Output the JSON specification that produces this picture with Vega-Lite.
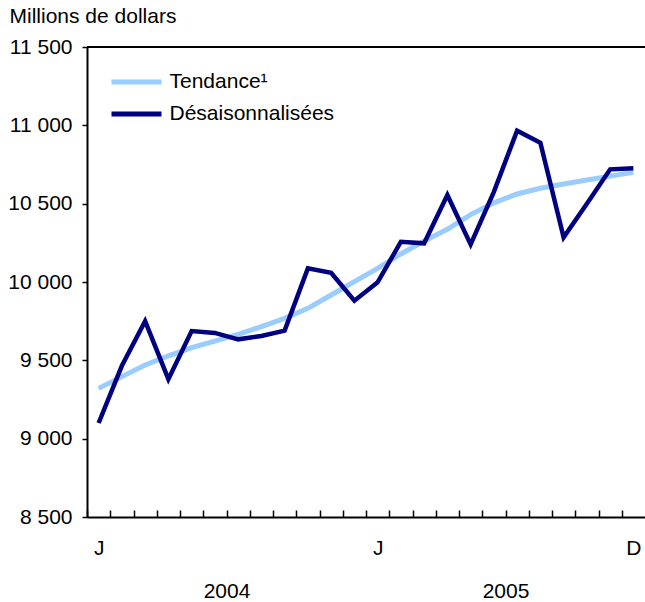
{
  "$schema": "https://vega.github.io/schema/vega-lite/v6.json",
  "autosize": {"type": "none"},
  "width": 558,
  "height": 470,
  "padding": {"left": 87, "top": 47, "right": 0, "bottom": 85},
  "config": {
    "view": {"stroke": null},
    "font": "Liberation Sans",
    "axis": {"grid": false, "domainColor": "#000000", "tickColor": "#000000", "labelColor": "#000000", "titleColor": "#000000", "labelFont": "Liberation Sans", "titleFont": "Liberation Sans"}
  },
  "data": {
    "values": [
      {"t": 0, "month": "2004-01", "series": "Tendance¹", "value": 9321},
      {"t": 1, "month": "2004-02", "series": "Tendance¹", "value": 9396},
      {"t": 2, "month": "2004-03", "series": "Tendance¹", "value": 9470},
      {"t": 3, "month": "2004-04", "series": "Tendance¹", "value": 9528},
      {"t": 4, "month": "2004-05", "series": "Tendance¹", "value": 9581},
      {"t": 5, "month": "2004-06", "series": "Tendance¹", "value": 9623},
      {"t": 6, "month": "2004-07", "series": "Tendance¹", "value": 9666},
      {"t": 7, "month": "2004-08", "series": "Tendance¹", "value": 9715},
      {"t": 8, "month": "2004-09", "series": "Tendance¹", "value": 9768},
      {"t": 9, "month": "2004-10", "series": "Tendance¹", "value": 9832},
      {"t": 10, "month": "2004-11", "series": "Tendance¹", "value": 9917},
      {"t": 11, "month": "2004-12", "series": "Tendance¹", "value": 10002},
      {"t": 12, "month": "2005-01", "series": "Tendance¹", "value": 10087},
      {"t": 13, "month": "2005-02", "series": "Tendance¹", "value": 10179},
      {"t": 14, "month": "2005-03", "series": "Tendance¹", "value": 10262},
      {"t": 15, "month": "2005-04", "series": "Tendance¹", "value": 10336},
      {"t": 16, "month": "2005-05", "series": "Tendance¹", "value": 10430},
      {"t": 17, "month": "2005-06", "series": "Tendance¹", "value": 10505},
      {"t": 18, "month": "2005-07", "series": "Tendance¹", "value": 10562},
      {"t": 19, "month": "2005-08", "series": "Tendance¹", "value": 10598},
      {"t": 20, "month": "2005-09", "series": "Tendance¹", "value": 10625},
      {"t": 21, "month": "2005-10", "series": "Tendance¹", "value": 10651},
      {"t": 22, "month": "2005-11", "series": "Tendance¹", "value": 10676},
      {"t": 23, "month": "2005-12", "series": "Tendance¹", "value": 10700},
      {"t": 0, "month": "2004-01", "series": "Désaisonnalisées", "value": 9100},
      {"t": 1, "month": "2004-02", "series": "Désaisonnalisées", "value": 9465},
      {"t": 2, "month": "2004-03", "series": "Désaisonnalisées", "value": 9750},
      {"t": 3, "month": "2004-04", "series": "Désaisonnalisées", "value": 9380},
      {"t": 4, "month": "2004-05", "series": "Désaisonnalisées", "value": 9687},
      {"t": 5, "month": "2004-06", "series": "Désaisonnalisées", "value": 9675},
      {"t": 6, "month": "2004-07", "series": "Désaisonnalisées", "value": 9634},
      {"t": 7, "month": "2004-08", "series": "Désaisonnalisées", "value": 9655},
      {"t": 8, "month": "2004-09", "series": "Désaisonnalisées", "value": 9690},
      {"t": 9, "month": "2004-10", "series": "Désaisonnalisées", "value": 10087},
      {"t": 10, "month": "2004-11", "series": "Désaisonnalisées", "value": 10059},
      {"t": 11, "month": "2004-12", "series": "Désaisonnalisées", "value": 9881},
      {"t": 12, "month": "2005-01", "series": "Désaisonnalisées", "value": 9998},
      {"t": 13, "month": "2005-02", "series": "Désaisonnalisées", "value": 10257},
      {"t": 14, "month": "2005-03", "series": "Désaisonnalisées", "value": 10247},
      {"t": 15, "month": "2005-04", "series": "Désaisonnalisées", "value": 10555},
      {"t": 16, "month": "2005-05", "series": "Désaisonnalisées", "value": 10240},
      {"t": 17, "month": "2005-06", "series": "Désaisonnalisées", "value": 10575},
      {"t": 18, "month": "2005-07", "series": "Désaisonnalisées", "value": 10966},
      {"t": 19, "month": "2005-08", "series": "Désaisonnalisées", "value": 10889},
      {"t": 20, "month": "2005-09", "series": "Désaisonnalisées", "value": 10285},
      {"t": 21, "month": "2005-10", "series": "Désaisonnalisées", "value": 10500},
      {"t": 22, "month": "2005-11", "series": "Désaisonnalisées", "value": 10719},
      {"t": 23, "month": "2005-12", "series": "Désaisonnalisées", "value": 10726}
    ]
  },
  "resolve": {"axis": {"x": "independent"}},
  "layer": [
    {
      "mark": {"type": "rule", "color": "#000000", "strokeWidth": 2},
      "encoding": {"y": {"datum": 11500, "type": "quantitative"}}
    },
    {
      "transform": [{"filter": "datum.series === 'Tendance¹'"}],
      "mark": {"type": "line", "strokeWidth": 5},
      "encoding": {
        "x": {
          "field": "t", "type": "quantitative",
          "scale": {"domain": [-0.5, 23.5], "nice": false, "zero": false},
          "axis": {
            "orient": "bottom", "title": null,
            "values": [-0.5, 0.5, 1.5, 2.5, 3.5, 4.5, 5.5, 6.5, 7.5, 8.5, 9.5, 10.5, 11.5, 12.5, 13.5, 14.5, 15.5, 16.5, 17.5, 18.5, 19.5, 20.5, 21.5, 22.5],
            "labelExpr": "datum.value == -0.5 || datum.value == 11.5 ? 'J' : (datum.value == 22.5 ? 'D' : '')",
            "labelOffset": 11.625, "labelFlush": false, "labelOverlap": false,
            "tickSize": -7, "tickWidth": 1.5, "domainWidth": 2,
            "labelFontSize": 21, "labelPadding": 27
          }
        },
        "y": {
          "field": "value", "type": "quantitative",
          "scale": {"domain": [8500, 11500], "nice": false, "zero": false},
          "axis": {
            "values": [8500, 9000, 9500, 10000, 10500, 11000, 11500],
            "labelExpr": "replace(format(datum.value, ','), ',', ' ')",
            "tickSize": 5, "tickWidth": 1.5, "domainWidth": 2,
            "labelFontSize": 21, "labelPadding": 10,
            "title": "Millions de dollars", "titleAngle": 0, "titleAlign": "left", "titleBaseline": "alphabetic",
            "titleX": -78, "titleY": -25, "titleFontSize": 21, "titleFontWeight": "normal"
          }
        },
        "color": {
          "field": "series", "type": "nominal",
          "scale": {"domain": ["Tendance¹", "Désaisonnalisées"], "range": ["#99CCFF", "#000080"]},
          "legend": {
            "orient": "none", "legendX": 34.5, "legendY": 20, "title": null,
            "symbolType": "M-2,0H2", "symbolSize": 625, "symbolStrokeWidth": 5, "symbolFillColor": "transparent",
            "labelFontSize": 21, "labelFont": "Liberation Sans", "labelColor": "#000000", "labelOffset": 18,
            "labelLimit": 400, "rowPadding": 7
          }
        }
      }
    },
    {
      "transform": [{"filter": "datum.series === 'Désaisonnalisées'"}],
      "mark": {"type": "line", "strokeWidth": 4.5},
      "encoding": {
        "x": {
          "field": "t", "type": "quantitative",
          "axis": {
            "orient": "bottom", "title": null,
            "values": [5.5, 17.5],
            "labelExpr": "datum.value < 10 ? '2004' : '2005'",
            "tickSize": 0, "domain": false, "ticks": false, "labelFlush": false, "labelOverlap": false,
            "labelFontSize": 21, "labelPadding": 63
          }
        },
        "y": {"field": "value", "type": "quantitative"},
        "color": {"field": "series", "type": "nominal"}
      }
    }
  ]
}
